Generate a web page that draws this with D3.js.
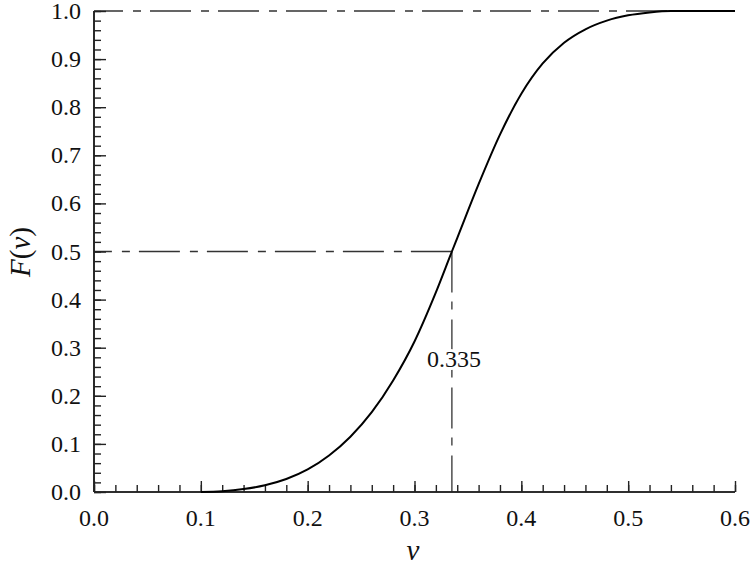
<!DOCTYPE html>
<html>
<head>
<meta charset="utf-8">
<script src="https://cdn.jsdelivr.net/npm/d3@7"></script>
<style>
  html, body { margin: 0; padding: 0; background: #fff; }
  svg { display: block; }
  text { font-family: "Liberation Serif", "Times New Roman", serif; fill: #111; }
</style>
</head>
<body>
<svg id="chart" width="755" height="567"></svg>
<script>
// ---- data ----
const vValues = [0.10, 0.12, 0.14, 0.16, 0.18, 0.20, 0.22, 0.24, 0.26, 0.28, 0.30, 0.32, 0.335, 0.34, 0.36, 0.38, 0.40, 0.42, 0.44, 0.46, 0.48, 0.50, 0.52, 0.54, 0.56, 0.60];
const fValues = [0.0, 0.0015, 0.006, 0.014, 0.027, 0.047, 0.076, 0.115, 0.166, 0.232, 0.313, 0.415, 0.50, 0.528, 0.640, 0.743, 0.828, 0.891, 0.934, 0.962, 0.980, 0.991, 0.997, 1.0, 1.0, 1.0];
const xTickValues = [0.0, 0.1, 0.2, 0.3, 0.4, 0.5, 0.6];
const yTickValues = [0.0, 0.1, 0.2, 0.3, 0.4, 0.5, 0.6, 0.7, 0.8, 0.9, 1.0];
const medianV = 0.335;
const medianF = 0.5;
const medianLabel = "0.335";

(function () {
// ---- layout ----
const svg = d3.select("#chart");
const mLeft = 94, mRight = 735, mTop = 11, mBottom = 492;
const x = d3.scaleLinear().domain([0, 0.6]).range([mLeft, mRight]);
const y = d3.scaleLinear().domain([0, 1]).range([mBottom, mTop]);

const minorX = d3.range(0, 61, 2).map(d => d / 100);
const minorY = d3.range(0, 101, 2).map(d => d / 100);

const axisColor = "#222";

// Reference lines (dash-dot)
const dash = "41,9,8,10";
const refG = svg.append("g").attr("stroke", "#333").attr("stroke-width", 1.3).attr("fill", "none");
refG.append("line")
  .attr("x1", x(0.6)).attr("x2", x(0)).attr("y1", y(1)).attr("y2", y(1))
  .attr("stroke-dasharray", dash);
refG.append("line")
  .attr("x1", x(medianV)).attr("x2", x(0)).attr("y1", y(medianF)).attr("y2", y(medianF))
  .attr("stroke-dasharray", dash);
refG.append("line")
  .attr("x1", x(medianV)).attr("x2", x(medianV)).attr("y1", y(medianF)).attr("y2", y(0))
  .attr("stroke-dasharray", dash);

// Axes: ticks inward
const xAxisMinor = d3.axisTop(x).tickValues(minorX).tickSize(7).tickFormat("");
const xAxisMajor = d3.axisTop(x).tickValues(xTickValues).tickSize(11).tickFormat("");
const yAxisMinor = d3.axisRight(y).tickValues(minorY).tickSize(7).tickFormat("");
const yAxisMajor = d3.axisRight(y).tickValues(yTickValues).tickSize(12).tickFormat("");

function styleAxis(g) {
  g.selectAll("path").attr("stroke", axisColor).attr("stroke-width", 1.6);
  g.selectAll("line").attr("stroke", axisColor).attr("stroke-width", 1.4);
}
[xAxisMinor, xAxisMajor].forEach(a => {
  svg.append("g").attr("transform", `translate(0,${mBottom})`).call(a).call(styleAxis)
    .call(g => g.select(".domain").attr("d", `M${mLeft},0H${mRight}`));
});
[yAxisMinor, yAxisMajor].forEach(a => {
  svg.append("g").attr("transform", `translate(${mLeft},0)`).call(a).call(styleAxis)
    .call(g => g.select(".domain").attr("d", `M0,${mBottom}V${mTop}`));
});

// Tick labels
svg.append("g").selectAll("text").data(xTickValues).join("text")
  .attr("x", d => x(d)).attr("y", 526)
  .attr("text-anchor", "middle").attr("font-size", 24)
  .text(d => d3.format(".1f")(d));
svg.append("g").selectAll("text").data(yTickValues).join("text")
  .attr("x", 81).attr("y", d => y(d) + 8)
  .attr("text-anchor", "end").attr("font-size", 24)
  .text(d => d3.format(".1f")(d));

// Axis titles
svg.append("text").attr("x", 413).attr("y", 560)
  .attr("text-anchor", "middle").attr("font-size", 29).attr("font-style", "italic").text("v");
const yt = svg.append("text").attr("transform", "translate(30,252) rotate(-90)")
  .attr("text-anchor", "middle").attr("font-size", 29);
yt.append("tspan").attr("font-style", "italic").text("F");
yt.append("tspan").text("(");
yt.append("tspan").attr("font-style", "italic").text("v");
yt.append("tspan").text(")");

// Curve
const pts = vValues.map((v, i) => [v, fValues[i]]);
const line = d3.line().x(d => x(d[0])).y(d => y(d[1])).curve(d3.curveMonotoneX);
svg.append("path").datum(pts).attr("d", line)
  .attr("fill", "none").attr("stroke", "#000").attr("stroke-width", 2);

// Median label
svg.append("text").attr("x", x(medianV) + 2).attr("y", 367)
  .attr("text-anchor", "middle").attr("font-size", 24)
  .attr("stroke", "#fff").attr("stroke-width", 6).attr("paint-order", "stroke")
  .text(medianLabel);
})();
</script>
</body>
</html>
